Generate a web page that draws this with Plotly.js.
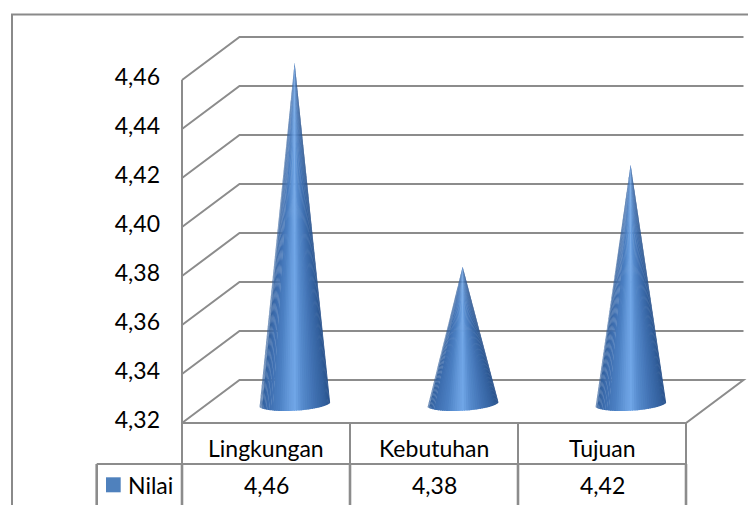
<!DOCTYPE html>
<html>
<head>
<meta charset="utf-8">
<script src="https://cdn.plot.ly/plotly-3.0.1.min.js"></script>
<style>
  html, body { margin: 0; padding: 0; background: #ffffff; }
  #chart { width: 748px; height: 505px; }
</style>
</head>
<body>
<div id="chart"></div>
<script>
// ---- data ----
const categories = ['Lingkungan', 'Kebutuhan', 'Tujuan'];
const seriesName = 'Nilai';
const values = [4.46, 4.38, 4.42];
const axisTicks = [4.32, 4.34, 4.36, 4.38, 4.40, 4.42, 4.44, 4.46];

// ---- geometry of the 3-D box (pixels) ----
const W = 748, H = 505;
const FRONT_LEFT = 182;          // x of the value axis / front-left floor corner
const COL_W = 168;               // width of one category column
const FLOOR_PX = 423;            // y of the axis minimum on the front plane
const PX_PER_UNIT = 48.99 / 0.02;
const DEPTH_DX = 57.5, DEPTH_DY = 43;      // front-to-back offset of the walls
const CONE_ORIGIN_PX = 419.7;    // projected axis minimum for the cone plane
const CONE_PX_PER_UNIT = 2550;
const CONE_BASE_PX = 403.5;      // centre of the cone base ellipses
const CONE_RX = 36.2, CONE_RY = 7.2, CONE_TILT = -3.4 * Math.PI / 180;
const CONE_SHIFT = 28.6;         // cones stand half way into the depth
const STRIPS = 48;

const GRID = '#8c8c8c';
const TEXT_FONT = { family: 'Lato, "Liberation Sans", sans-serif', size: 23, color: '#000000' };
const coneScale = [
  [0.00, [45, 90, 150]],
  [0.12, [60, 108, 173]],
  [0.30, [76, 128, 195]],
  [0.45, [104, 157, 222]],
  [0.52, [112, 166, 231]],
  [0.62, [86, 139, 205]],
  [0.80, [64, 112, 177]],
  [0.93, [50, 95, 156]],
  [1.00, [40, 80, 138]]
];

const xFromPx = px => (px - FRONT_LEFT) / COL_W - 0.5;
const fmt = v => v.toFixed(2).replace('.', ',');
const paperY = py => 1 - py / H;
const paperX = px => px / W;

function shade(f) {
  for (let k = 1; k < coneScale.length; k++) {
    const [p1, c1] = coneScale[k];
    const [p0, c0] = coneScale[k - 1];
    if (f <= p1) {
      const t = (f - p0) / (p1 - p0);
      const c = c0.map((v, j) => Math.round(v + (c1[j] - v) * t));
      return `rgb(${c[0]},${c[1]},${c[2]})`;
    }
  }
  const c = coneScale[coneScale.length - 1][1];
  return `rgb(${c[0]},${c[1]},${c[2]})`;
}

const xRange = [xFromPx(0), xFromPx(W)];
const yMin = axisTicks[0];
const yRange = [yMin - (H - FLOOR_PX) / PX_PER_UNIT, yMin + FLOOR_PX / PX_PER_UNIT];
const y2Range = [yMin - (H - CONE_ORIGIN_PX) / CONE_PX_PER_UNIT, yMin + CONE_ORIGIN_PX / CONE_PX_PER_UNIT];
const ddx = DEPTH_DX / COL_W, ddy = DEPTH_DY / PX_PER_UNIT;
const xL = -0.5, xR = categories.length - 0.5;

// ---- cones: a fan of strips from the apex to the lower rim of the base ----
// each strip starts at the left rim end and runs to its own right edge, so
// later (lighter/darker) strips overlap the earlier ones without seams
const traces = [];
const baseY2 = yMin + (CONE_ORIGIN_PX - CONE_BASE_PX) / CONE_PX_PER_UNIT;
values.forEach((v, i) => {
  const cx = i + CONE_SHIFT / COL_W;
  const rim = t => {
    const dxp = CONE_RX * Math.cos(t) * Math.cos(CONE_TILT) - CONE_RY * Math.sin(t) * Math.sin(CONE_TILT);
    const dyp = CONE_RX * Math.cos(t) * Math.sin(CONE_TILT) + CONE_RY * Math.sin(t) * Math.cos(CONE_TILT);
    return [cx + dxp / COL_W, baseY2 - dyp / CONE_PX_PER_UNIT];
  };
  // walk from the left end (t = PI) to the right end (t = 0)
  for (let s = 0; s < STRIPS; s++) {
    const tA = Math.PI * (1 - s / STRIPS);
    const tB = Math.PI * (1 - (s + 1) / STRIPS);
    const tStart = Math.min(Math.PI, tA + Math.PI / STRIPS * 0.6);
    const xs = [cx], ys = [v];
    const n = 4;
    for (let k = 0; k <= n; k++) {
      const p = rim(tStart + (tB - tStart) * k / n);
      xs.push(p[0]); ys.push(p[1]);
    }
    xs.push(cx); ys.push(v);
    const f = (1 + Math.cos((tA + tB) / 2)) / 2;
    const col = shade(f);
    traces.push({
      type: 'scatter', mode: 'lines', xaxis: 'x', yaxis: 'y2',
      x: xs, y: ys, fill: 'toself', fillcolor: col,
      line: { color: col, width: 0 },
      hoverinfo: 'skip', showlegend: false
    });
  }
});

// ---- walls, floor and gridlines ----
const shapes = [];
axisTicks.forEach((v, k) => {
  let d = `M ${xL},${v} L ${xL + ddx},${v + ddy} L ${xR + ddx},${v + ddy}`;
  if (k === 0) d += ` L ${xR},${v} L ${xL},${v}`;
  shapes.push({ type: 'path', xref: 'x', yref: 'y', path: d, layer: 'below',
                line: { color: GRID, width: 2 } });
});
shapes.push({ type: 'line', xref: 'x', yref: 'y', x0: xL, x1: xL, y0: yMin, y1: axisTicks[axisTicks.length - 1],
              layer: 'below', line: { color: GRID, width: 2 } });

// ---- data table ----
const rowPx = 464;
for (let c = 0; c <= categories.length; c++) {
  shapes.push({ type: 'line', xref: 'x', yref: 'paper', x0: xL + c, x1: xL + c,
                y0: paperY(FLOOR_PX), y1: paperY(rowPx), line: { color: GRID, width: 2 } });
  shapes.push({ type: 'line', xref: 'x', yref: 'paper', x0: xL + c, x1: xL + c,
                y0: paperY(rowPx), y1: -0.02, line: { color: GRID, width: 2.6 } });
}
shapes.push({ type: 'line', xref: 'paper', yref: 'paper', x0: paperX(96.7), x1: paperX(FRONT_LEFT + COL_W * categories.length),
              y0: paperY(rowPx), y1: paperY(rowPx), line: { color: GRID, width: 2 } });
shapes.push({ type: 'line', xref: 'paper', yref: 'paper', x0: paperX(96.7), x1: paperX(96.7),
              y0: paperY(rowPx), y1: -0.02, line: { color: GRID, width: 2.6 } });
// legend key
shapes.push({ type: 'rect', xref: 'paper', yref: 'paper', x0: paperX(106), x1: paperX(120.7),
              y0: paperY(492.3), y1: paperY(477.3), fillcolor: '#4f81bd', line: { width: 0 } });
// chart area border
shapes.push({ type: 'path', xref: 'paper', yref: 'paper',
              path: `M ${paperX(12)},-0.02 L ${paperX(12)},${paperY(14.5)} L 1.02,${paperY(14.5)}`,
              line: { color: '#8a8a8a', width: 2 } });

const annotations = [];
categories.forEach((c, i) => {
  annotations.push({ xref: 'x', yref: 'paper', x: i, y: paperY(448), text: c, showarrow: false,
                     xanchor: 'center', yanchor: 'middle', font: TEXT_FONT });
  annotations.push({ xref: 'x', yref: 'paper', x: i, y: paperY(485), text: fmt(values[i]), showarrow: false,
                     xanchor: 'center', yanchor: 'middle', font: TEXT_FONT });
});
annotations.push({ xref: 'paper', yref: 'paper', x: paperX(126), y: paperY(485), text: seriesName, showarrow: false,
                   xanchor: 'left', yanchor: 'middle', font: TEXT_FONT });

const layout = {
  width: W, height: H,
  margin: { l: 0, r: 0, t: 0, b: 0, pad: 0 },
  paper_bgcolor: '#ffffff', plot_bgcolor: 'rgba(0,0,0,0)',
  separators: ',.',
  showlegend: false,
  xaxis: { range: xRange, visible: false, fixedrange: true },
  yaxis: {
    range: yRange, anchor: 'free', position: FRONT_LEFT / W, side: 'left',
    tickvals: axisTicks, tickformat: '.2f', ticks: '', showgrid: false, zeroline: false, showline: false,
    ticklabelstandoff: 22, ticklabelshift: -3, automargin: false,
    tickfont: TEXT_FONT, fixedrange: true
  },
  yaxis2: { range: y2Range, overlaying: 'y', visible: false, fixedrange: true },
  shapes: shapes,
  annotations: annotations
};

Plotly.newPlot('chart', traces, layout, { displayModeBar: false, staticPlot: true });
</script>
</body>
</html>
